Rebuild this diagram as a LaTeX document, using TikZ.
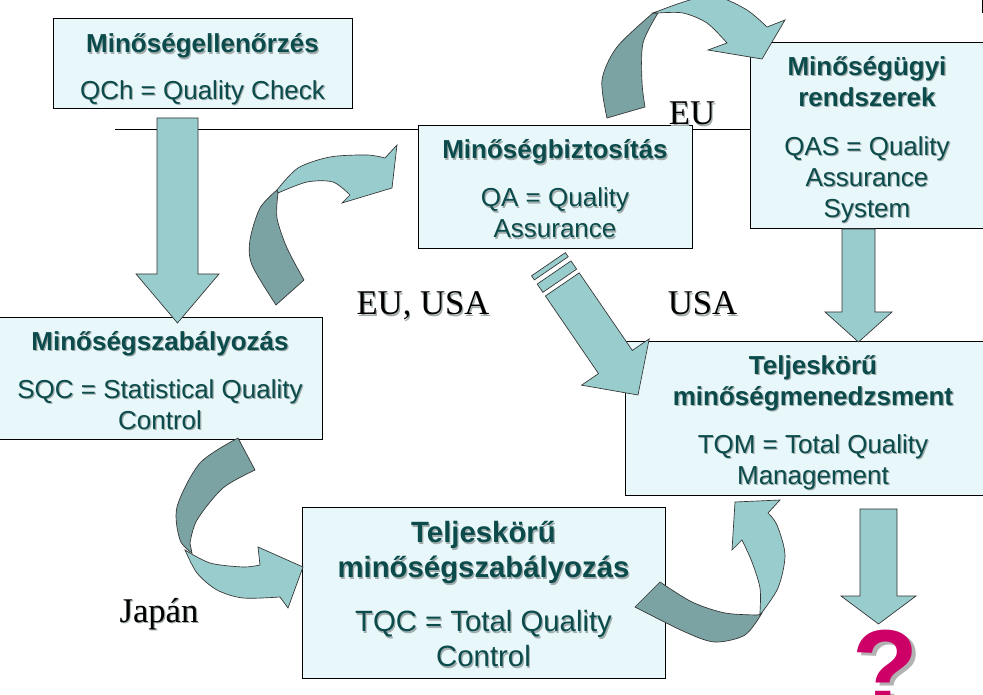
\documentclass[tikz,border=0pt]{standalone}
\usepackage{fontspec}
\setmainfont{Liberation Sans}
\newfontfamily\lblserif{Liberation Serif}
\usetikzlibrary{fit}
\definecolor{boxfill}{HTML}{E8F8FA}
\definecolor{txt}{HTML}{0B4B4B}
\definecolor{txtsh}{HTML}{A2ACAC}
\definecolor{arrl}{HTML}{99CCCC}
\definecolor{arrd}{HTML}{7BA3A3}
\definecolor{qmark}{HTML}{CC0066}
\newcommand\sh[1]{\leavevmode\rlap{\hspace{0.9pt}\raisebox{-0.9pt}{\color{txtsh}#1}}#1}
\tikzset{
  box/.style={draw=black, line width=0.75pt, fill=boxfill, inner sep=0pt},
  boxtxt/.style={inner sep=0pt, text=txt, align=center, font=\fontsize{19.5}{23.25}\selectfont},
  bigtxt/.style={boxtxt, font=\fontsize{22}{26.25}\selectfont},
  blk/.style={draw=black!80, line width=0.5pt, fill=arrl, line join=miter},
  blkd/.style={blk, fill=arrd},
  lbl/.style={anchor=base, inner sep=0pt, text=black, font=\lblserif\fontsize{26}{30}\selectfont},
}
\begin{document}
\begin{tikzpicture}[x=0.75pt,y=-0.75pt]
\useasboundingbox (0,0) rectangle (983,695);
\fill[white] (0,0) rectangle (983,695);

% horizontal line
\coordinate (hl1) at (115,130);
\coordinate (hl2) at (750,130);
\draw[line width=0.75pt] (hl1) -- (hl2);
\draw[line width=0.75pt] (982,0) -- (982,13);

% boxes
\node[box, fit={(53,19) (352,109)}] (qch) {};
\node[box, fit={(418,126) (692,249)}] (qa) {};
\node[box, fit={(750,43) (984,229)}] (qas) {};
\node[box, fit={(-2,318) (322,440)}] (sqc) {};
\node[box, fit={(625,342) (1001,496)}] (tqm) {};
\node[box, fit={(302,508) (665,678)}] (tqc) {};

% box texts
\node[boxtxt, yshift=-4.5pt] (qch-t) at (qch.center)
  {\textbf{\sh{Minőségellenőrzés}}\\[11.75pt]\sh{QCh = Quality Check}};
\node[boxtxt, yshift=-1.5pt] (qa-t) at (qa.center)
  {\textbf{\sh{Minőségbiztosítás}}\\[12.75pt]\sh{QA = Quality}\\\sh{Assurance}};
\node[boxtxt, yshift=-3pt] (qas-t) at (qas.center)
  {\textbf{\sh{Minőségügyi}}\\\textbf{\sh{rendszerek}}\\[13.5pt]\sh{QAS = Quality}\\\sh{Assurance}\\\sh{System}};
\node[boxtxt, yshift=-1.5pt] (sqc-t) at (sqc.center)
  {\textbf{\sh{Minőségszabályozás}}\\[12.75pt]\sh{SQC = Statistical Quality}\\\sh{Control}};
\node[boxtxt, yshift=-3pt] (tqm-t) at (tqm.center)
  {\textbf{\sh{Teljeskörű}}\\\textbf{\sh{minőségmenedzsment}}\\[12.75pt]\sh{TQM = Total Quality}\\\sh{Management}};
\node[bigtxt, yshift=-1.5pt] (tqc-t) at (tqc.center)
  {\textbf{\sh{Teljeskörű}}\\\textbf{\sh{minőségszabályozás}}\\[14.25pt]\sh{TQC = Total Quality}\\\sh{Control}};

% straight block arrows
\filldraw[blk] (157,118) -- (198,118) -- (198,274) -- (219,274) -- (177.5,323) -- (136,274) -- (157,274) -- cycle;
\filldraw[blk] (842,229) -- (875,229) -- (875,312) -- (892,312) -- (858.5,342) -- (825,312) -- (842,312) -- cycle;
\filldraw[blk] (860,509) -- (897,509) -- (897,596) -- (916,596) -- (878.5,624) -- (841,596) -- (860,596) -- cycle;

% striped arrow QA -> TQM
\begin{scope}[shift={(638,395)}, rotate=-55.6]
  \filldraw[blk] (0,0) -- (-40,41) -- (-40,20.5) -- (-134,20.5) -- (-134,-20.5) -- (-40,-20.5) -- (-40,-41) -- cycle;
  \filldraw[blk] (-148.5,20.5) rectangle (-138.5,-20.5);
  \filldraw[blk] (-158.5,20.5) rectangle (-153.5,-20.5);
\end{scope}

% curved arrow SQC -> QA (EU, USA)
\filldraw[blkd] (276,305) -- plot[smooth] coordinates {(276,305) (252,265) (250,240) (260,208) (277,190)}
  -- plot[smooth] coordinates {(278,193) (277,218) (287,248) (304,280)} -- cycle;
\filldraw[blk] plot[smooth] coordinates {(277,190) (298,168) (330,157) (367,155) (385,158)}
  -- (397,145) -- (392,188) -- (342,203) -- (350,195)
  -- plot[smooth] coordinates {(350,195) (333,182) (307,182) (278,193)} -- cycle;

% curved arrow QA -> QAS (EU)
\filldraw[blkd] (607,118) -- plot[smooth] coordinates {(607,118) (602,80) (617,47) (653,13)}
  -- plot[smooth] coordinates {(658,13) (643,43) (642,82) (645,107)} -- cycle;
\filldraw[blk] plot[smooth] coordinates {(653,13) (690,0) (718,-3) (747,10) (767,27)}
  -- (785,20) -- (762,59) -- (708,50) -- (727,43)
  -- plot[smooth] coordinates {(727,43) (707,23) (683,13) (658,13)} -- cycle;

% curved arrow SQC -> TQC (Japán)
\filldraw[blkd] (238,438) -- plot[smooth] coordinates {(238,438) (200,463) (177,507) (180,540) (192,553)}
  -- plot[smooth] coordinates {(190,543) (197,520) (223,488) (255,470)} -- cycle;
\filldraw[blk] plot[smooth] coordinates {(185,550) (210,563) (243,567) (260,565)}
  -- (258,547) -- (303,567) -- (288,608) -- (280,597)
  -- plot[smooth] coordinates {(280,597) (243,598) (217,590) (197,573) (185,550)} -- cycle;

% curved arrow TQC -> TQM
\filldraw[blkd] (635,607) -- (660,582) -- plot[smooth] coordinates {(660,582) (692,602) (725,613) (758,615)}
  -- plot[smooth] coordinates {(762,613) (745,635) (715,642) (685,632) (635,607)} -- cycle;
\filldraw[blk] plot[smooth] coordinates {(760,615) (778,588) (785,555) (777,525) (768,513)}
  -- (780,500) -- (735,502) -- (732,550) -- (742,540)
  -- plot[smooth] coordinates {(742,540) (752,562) (760,588) (760,612)} -- cycle;

% labels
\node[lbl] (leu) at (692,125) {\sh{EU}};
\node[lbl] (leuusa) at (423,315) {\sh{EU, USA}};
\node[lbl] (lusa) at (702.5,315) {\sh{USA}};
\node[lbl] (ljapan) at (159,622) {\sh{Japán}};

% question mark with shadow
\node[anchor=base, inner sep=0pt, text=qmark, font=\bfseries\fontsize{81}{81}\selectfont] (qm) at (885,705)
  {\rlap{\hspace{3pt}\raisebox{-2.25pt}{\color{black!30}?}}?};
\end{tikzpicture}
\end{document}
